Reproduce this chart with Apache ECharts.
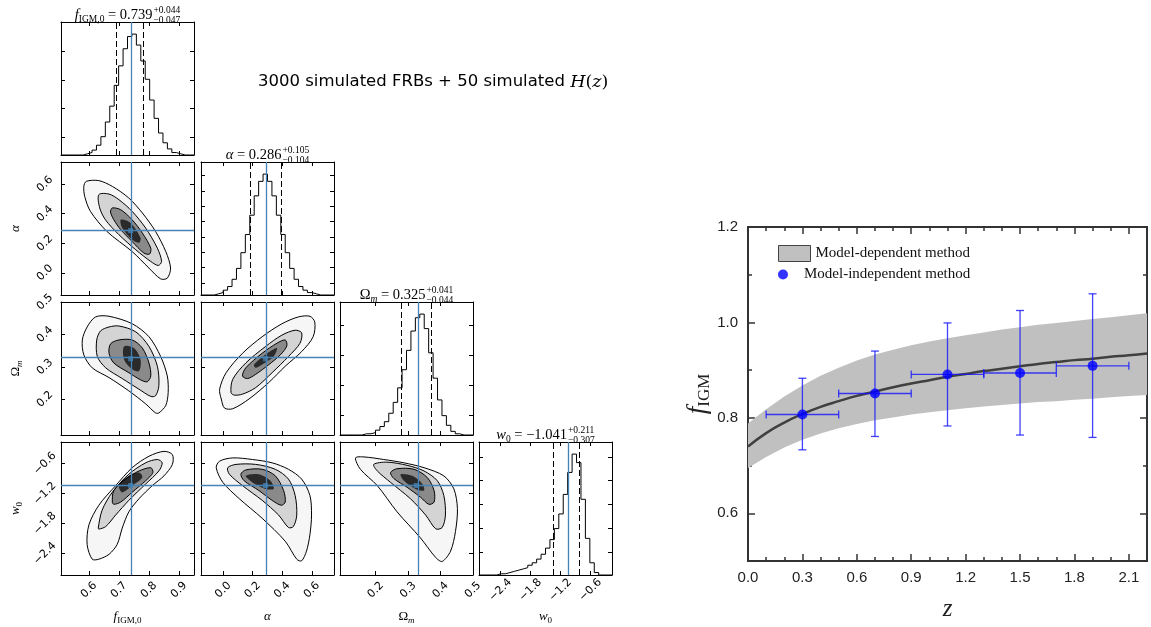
<!DOCTYPE html>
<html>
<head>
<meta charset="utf-8">
<script src="https://cdn.jsdelivr.net/npm/echarts@6/dist/echarts.min.js"></script>
<style>
html,body{margin:0;padding:0;background:#fff}
#c{width:1151px;height:627px}
</style>
</head>
<body>
<div id="c"></div>
<script>
// ---------- posterior summary: f_IGM,0, alpha, Omega_m, w0 ----------
const paramRanges = [[0.507, 0.95], [-0.15, 0.75], [0.09, 0.50], [-2.83, -0.17]];
const paramTicks = [[0.6, 0.7, 0.8, 0.9], [0.0, 0.2, 0.4, 0.6], [0.2, 0.3, 0.4, 0.5], [-2.4, -1.8, -1.2, -0.6]];
const paramMedian = [0.739, 0.286, 0.325, -1.041];
const paramErrUp = [0.044, 0.105, 0.041, 0.211];
const paramErrDown = [0.047, 0.104, 0.044, 0.307];

// 1D marginal histograms (30 bins across each range, peak-normalised counts)
const histF = [0,0,0,0,0,1,2,4,8,15,27,40,57,73,87,97,99,90,77,62,45,30,18,10,5,2,1,0,0,0];
const histA = [0,0,0,1,2,4,7,13,22,35,50,66,82,94,100,94,82,66,50,35,22,13,7,4,2,1,0,0,0,0];
const histO = [0,0,0,0,0,1,1,2,4,7,11,18,27,39,54,70,86,97,100,88,68,47,29,16,8,3,1,0,0,0];
const histW = [0,0,0,0,1,1,2,3,4,5,6,8,10,13,17,22,29,38,50,66,84,99,92,62,30,10,2,0,0,0];
// count-axis tick positions of each histogram (same units as above)
const histTicksF = [14.5, 38, 61.5, 85];
const histTicksA = [10, 22.7, 35.4, 48.1, 60.8, 73.5, 86.2, 98.9];
const histTicksO = [16.5, 41.2, 65.9, 90.6];
const histTicksW = [18.7, 38.2, 57.7, 77.2, 96.7];

// 2D contour levels (outer, middle, inner) and densest core, per parameter pair
const faOuter = [[0.591,0.619],[0.633,0.624],[0.678,0.585],[0.733,0.506],[0.778,0.405],[0.822,0.280],[0.856,0.144],[0.872,0.032],[0.861,-0.036],[0.839,-0.041],[0.800,0.032],[0.744,0.144],[0.660,0.280],[0.605,0.416],[0.586,0.517],[0.583,0.585]];
const faMid = [[0.633,0.529],[0.667,0.533],[0.700,0.495],[0.744,0.416],[0.789,0.303],[0.828,0.167],[0.842,0.077],[0.831,0.050],[0.806,0.077],[0.756,0.156],[0.700,0.258],[0.655,0.359],[0.636,0.439]];
const faInner = [[0.678,0.439],[0.706,0.427],[0.744,0.359],[0.778,0.269],[0.806,0.167],[0.802,0.127],[0.783,0.134],[0.744,0.212],[0.706,0.292],[0.683,0.359],[0.672,0.412]];
const faCore = [[0.706,0.359],[0.739,0.337],[0.772,0.236],[0.767,0.203],[0.744,0.224],[0.711,0.303]];

const foOuter = [[0.594,0.423],[0.622,0.454],[0.667,0.456],[0.744,0.433],[0.800,0.393],[0.839,0.332],[0.861,0.272],[0.864,0.221],[0.856,0.181],[0.833,0.158],[0.822,0.158],[0.789,0.186],[0.733,0.226],[0.667,0.267],[0.611,0.297],[0.583,0.337],[0.578,0.383]];
const foMid = [[0.639,0.411],[0.667,0.423],[0.700,0.426],[0.756,0.408],[0.800,0.363],[0.828,0.302],[0.833,0.242],[0.822,0.211],[0.806,0.209],[0.767,0.231],[0.711,0.264],[0.656,0.297],[0.628,0.332],[0.626,0.383]];
const foInner = [[0.672,0.371],[0.700,0.383],[0.744,0.383],[0.778,0.358],[0.800,0.312],[0.806,0.272],[0.794,0.254],[0.772,0.260],[0.733,0.282],[0.683,0.312],[0.667,0.342]];
const foCore = [[0.717,0.363],[0.750,0.358],[0.772,0.323],[0.767,0.287],[0.744,0.293],[0.717,0.323]];

const aoOuter = [[-0.013,0.201],[-0.024,0.231],[0.020,0.282],[0.131,0.342],[0.264,0.393],[0.398,0.433],[0.509,0.454],[0.587,0.456],[0.620,0.438],[0.609,0.393],[0.531,0.347],[0.420,0.302],[0.309,0.252],[0.175,0.201],[0.065,0.171],[0.009,0.173]];
const aoMid = [[0.053,0.221],[0.065,0.262],[0.153,0.312],[0.287,0.363],[0.398,0.398],[0.487,0.413],[0.531,0.405],[0.520,0.373],[0.442,0.332],[0.331,0.282],[0.220,0.236],[0.131,0.216],[0.075,0.213]];
const aoInner = [[0.131,0.272],[0.153,0.297],[0.264,0.342],[0.364,0.373],[0.420,0.383],[0.431,0.365],[0.387,0.337],[0.309,0.307],[0.220,0.277],[0.165,0.264]];
const aoCore = [[0.209,0.307],[0.298,0.342],[0.364,0.358],[0.342,0.332],[0.264,0.307],[0.220,0.297]];

const fwOuter = [[0.611,-2.514],[0.594,-2.220],[0.600,-1.827],[0.633,-1.435],[0.689,-1.043],[0.744,-0.684],[0.800,-0.455],[0.850,-0.357],[0.878,-0.422],[0.878,-0.618],[0.850,-0.847],[0.811,-1.043],[0.767,-1.304],[0.733,-1.567],[0.711,-1.892],[0.694,-2.220],[0.667,-2.416],[0.633,-2.514]];
const fwMid = [[0.631,-1.892],[0.644,-1.533],[0.678,-1.175],[0.733,-0.814],[0.789,-0.586],[0.828,-0.520],[0.844,-0.586],[0.833,-0.749],[0.789,-1.010],[0.733,-1.337],[0.689,-1.631],[0.656,-1.861],[0.633,-1.912]];
const fwInner = [[0.678,-1.371],[0.683,-1.141],[0.722,-0.912],[0.767,-0.749],[0.806,-0.684],[0.813,-0.782],[0.789,-0.945],[0.744,-1.175],[0.706,-1.371],[0.683,-1.416]];
const fwCore = [[0.700,-1.043],[0.733,-0.847],[0.767,-0.782],[0.778,-0.880],[0.744,-1.043],[0.711,-1.175]];

const awOuter = [[-0.047,-0.684],[-0.024,-0.553],[0.065,-0.488],[0.198,-0.520],[0.331,-0.586],[0.442,-0.716],[0.531,-0.912],[0.587,-1.239],[0.598,-1.631],[0.587,-2.024],[0.564,-2.351],[0.531,-2.547],[0.498,-2.514],[0.420,-2.155],[0.264,-1.696],[0.109,-1.304],[-0.002,-0.978]];
const awMid = [[0.031,-0.684],[0.087,-0.618],[0.220,-0.618],[0.353,-0.716],[0.442,-0.912],[0.487,-1.239],[0.498,-1.631],[0.475,-1.861],[0.442,-1.880],[0.375,-1.631],[0.264,-1.337],[0.131,-1.043],[0.042,-0.814]];
const awInner = [[0.120,-0.814],[0.153,-0.729],[0.264,-0.716],[0.353,-0.847],[0.409,-1.141],[0.420,-1.371],[0.393,-1.435],[0.331,-1.337],[0.242,-1.141],[0.142,-0.945]];
const awCore = [[0.153,-0.847],[0.242,-0.814],[0.320,-0.945],[0.342,-1.108],[0.287,-1.108],[0.198,-0.978]];

const owOuter = [[0.138,-0.488],[0.164,-0.469],[0.225,-0.520],[0.287,-0.586],[0.349,-0.684],[0.410,-0.847],[0.441,-1.108],[0.452,-1.500],[0.446,-1.959],[0.431,-2.351],[0.405,-2.559],[0.385,-2.480],[0.338,-2.088],[0.266,-1.567],[0.205,-1.043],[0.153,-0.716]];
const owMid = [[0.194,-0.618],[0.235,-0.573],[0.297,-0.637],[0.349,-0.749],[0.390,-0.945],[0.410,-1.239],[0.415,-1.631],[0.405,-1.880],[0.385,-1.906],[0.354,-1.631],[0.307,-1.304],[0.246,-0.978],[0.205,-0.749]];
const owInner = [[0.246,-0.782],[0.266,-0.704],[0.318,-0.716],[0.359,-0.880],[0.380,-1.141],[0.380,-1.371],[0.364,-1.416],[0.338,-1.273],[0.297,-1.076],[0.256,-0.900]];
const owCore = [[0.277,-0.814],[0.313,-0.847],[0.344,-1.010],[0.349,-1.141],[0.323,-1.108],[0.287,-0.945]];

// ---------- f_IGM(z): model-dependent band and binned model-independent points ----------
const zGrid     = [0.0, 0.1, 0.2, 0.3, 0.4, 0.5, 0.6, 0.7, 0.8, 0.9, 1.0, 1.1, 1.2, 1.3, 1.4, 1.5, 1.6, 1.7, 1.8, 1.9, 2.0, 2.1, 2.2];
const bandMid   = [0.740, 0.768, 0.790, 0.808, 0.823, 0.835, 0.846, 0.855, 0.864, 0.872, 0.879, 0.886, 0.892, 0.898, 0.903, 0.908, 0.913, 0.917, 0.921, 0.924, 0.928, 0.931, 0.935];
const bandUpper = [0.788, 0.818, 0.845, 0.868, 0.888, 0.905, 0.920, 0.933, 0.943, 0.952, 0.960, 0.967, 0.973, 0.979, 0.985, 0.990, 0.995, 0.999, 1.003, 1.007, 1.011, 1.015, 1.019];
const bandLower = [0.695, 0.718, 0.738, 0.754, 0.767, 0.778, 0.787, 0.795, 0.801, 0.807, 0.812, 0.816, 0.820, 0.824, 0.827, 0.830, 0.833, 0.835, 0.838, 0.840, 0.843, 0.846, 0.848];
const binZ      = [0.3, 0.7, 1.1, 1.5, 1.9];
const binZLow   = [0.1, 0.5, 0.9, 1.3, 1.7];
const binZHigh  = [0.5, 0.9, 1.3, 1.7, 2.1];
const binF      = [0.807, 0.851, 0.891, 0.894, 0.909];
const binFLow   = [0.733, 0.761, 0.783, 0.764, 0.759];
const binFHigh  = [0.883, 0.940, 0.999, 1.025, 1.060];
const zTicks = [0.0, 0.3, 0.6, 0.9, 1.2, 1.5, 1.8, 2.1];
const zMinorTicks = [0.1, 0.2, 0.4, 0.5, 0.7, 0.8, 1.0, 1.1, 1.3, 1.4, 1.6, 1.7, 1.9, 2.0, 2.2];
const fTicks = [0.6, 0.8, 1.0, 1.2];
const fMinorTicks = [0.5, 0.7, 0.9, 1.1];

// ---------- layout ----------
const colLeft = [61, 201, 340, 479];
const rowTop = [22, 162, 302, 442];
const panelW = 133, panelH = 133;
const steel = '#4682b4';
const tickFont = 'DejaVu Sans';
const mathFont = 'Liberation Serif';

const fmt1 = v => (Math.abs(v) < 1e-9 ? 0 : v).toFixed(1).replace('-', '\u2212');
const measureCtx = document.createElement('canvas').getContext('2d');
function textWidth(str, font) { measureCtx.font = font; return measureCtx.measureText(str).width; }

// axis-name rich pieces for each parameter
const nameRich = {
  n: {fontFamily: mathFont, fontSize: 13, lineHeight: 16, verticalAlign: 'middle', color: '#000'},
  i: {fontFamily: mathFont, fontStyle: 'italic', fontSize: 13, lineHeight: 16, verticalAlign: 'middle', color: '#000'},
  s: {fontFamily: mathFont, fontSize: 9, lineHeight: 16, verticalAlign: 'bottom', color: '#000'},
  si: {fontFamily: mathFont, fontStyle: 'italic', fontSize: 9, lineHeight: 16, verticalAlign: 'bottom', color: '#000'}
};
const paramLabel = ['{i|f}{s|IGM,0}', '{i|\u03b1}', '{n|\u03a9}{si|m}', '{i|w}{s|0}'];

const grids = [], xAxes = [], yAxes = [], series = [], graphics = [];

function cornerAxis(gi, pos, range, ticks, showLabels, name, isY) {
  const ax = {
    type: 'value', gridIndex: gi, position: pos, min: range[0], max: range[1],
    axisLine: {show: true, onZero: false, lineStyle: {color: '#000', width: 1}},
    axisTick: {show: true, inside: true, length: 4, customValues: ticks, lineStyle: {color: '#000', width: 1}},
    axisLabel: {show: showLabels, customValues: ticks, formatter: fmt1, rotate: 45, align: 'center',
      verticalAlign: 'middle', margin: isY ? 16 : 15, fontFamily: tickFont, fontSize: 11, color: '#000'},
    splitLine: {show: false}
  };
  if (name) {
    ax.name = name; ax.nameLocation = 'middle'; ax.nameGap = isY ? 37 : 34;
    ax.nameTextStyle = {rich: nameRich};
    if (isY) ax.nameRotate = 90;
  }
  return ax;
}

function histPoints(counts, range) {
  const w = (range[1] - range[0]) / counts.length;
  const pts = counts.map((c, i) => [range[0] + i * w, c]);
  pts.push([range[1], counts[counts.length - 1]]);
  return pts;
}

function polygonSeries(axisIdx, layers) {
  return {
    type: 'custom', xAxisIndex: axisIdx, yAxisIndex: axisIdx, silent: true, clip: true, z: 2,
    encode: {x: 0, y: 1},
    data: layers.map((l, i) => [l.pts[0][0], l.pts[0][1], i]),
    renderItem: (params, api) => {
      const L = layers[params.dataIndex];
      return {
        type: 'polygon',
        shape: {points: L.pts.map(p => api.coord(p)), smooth: 0.3},
        style: {fill: L.fill || 'none', stroke: L.stroke || 'none', lineWidth: 1}
      };
    }
  };
}

const hists = [histF, histA, histO, histW];
const histTicks = [histTicksF, histTicksA, histTicksO, histTicksW];
const pairs = {
  '1,0': [faOuter, faMid, faInner, faCore],
  '2,0': [foOuter, foMid, foInner, foCore],
  '2,1': [aoOuter, aoMid, aoInner, aoCore],
  '3,0': [fwOuter, fwMid, fwInner, fwCore],
  '3,1': [awOuter, awMid, awInner, awCore],
  '3,2': [owOuter, owMid, owInner, owCore]
};

const titleRich = {
  n: {fontFamily: mathFont, fontSize: 14.5, lineHeight: 18, verticalAlign: 'middle', fill: '#000'},
  i: {fontFamily: mathFont, fontStyle: 'italic', fontSize: 14.5, lineHeight: 18, verticalAlign: 'middle', fill: '#000'},
  s: {fontFamily: mathFont, fontSize: 9.5, lineHeight: 18, verticalAlign: 'bottom', fill: '#000'},
  si: {fontFamily: mathFont, fontStyle: 'italic', fontSize: 9.5, lineHeight: 18, verticalAlign: 'bottom', fill: '#000'}
};
const F_MAIN = '14.5px "Liberation Serif"', F_MAIN_I = 'italic 14.5px "Liberation Serif"';
const F_SCR = '9.5px "Liberation Serif"', F_SCR_I = 'italic 9.5px "Liberation Serif"';

for (let r = 0; r < 4; r++) {
  for (let c = 0; c <= r; c++) {
    const gi = grids.length;
    grids.push({left: colLeft[c], top: rowTop[r], width: panelW, height: panelH});
    const xr = paramRanges[c];
    xAxes.push(cornerAxis(gi, 'bottom', xr, paramTicks[c], r === 3, r === 3 ? paramLabel[c] : null, false));
    xAxes.push(cornerAxis(gi, 'top', xr, paramTicks[c], false, null, false));
    const axisIdx = xAxes.length - 2;
    if (r === c) {
      const peak = Math.max(...hists[c]);
      const yr = [0, peak * 1.1];
      yAxes.push(cornerAxis(gi, 'left', yr, histTicks[c], false, null, true));
      yAxes.push(cornerAxis(gi, 'right', yr, histTicks[c], false, null, true));
      const med = paramMedian[c];
      series.push({
        type: 'line', step: 'end', xAxisIndex: axisIdx, yAxisIndex: axisIdx, silent: true,
        data: histPoints(hists[c], xr), symbol: 'none', lineStyle: {color: '#000', width: 1},
        markLine: {
          silent: true, symbol: ['none', 'none'], label: {show: false},
          data: [
            {xAxis: med, lineStyle: {color: steel, width: 1.3, type: 'solid'}},
            {xAxis: med - paramErrDown[c], lineStyle: {color: '#000', width: 1, type: [6, 3]}},
            {xAxis: med + paramErrUp[c], lineStyle: {color: '#000', width: 1, type: [6, 3]}}
          ]
        }
      });
      // title with median and asymmetric errors
      const cx = colLeft[c] + panelW / 2;
      const ty = rowTop[r] - 7;
      const heads = [
        {rich: '{i|f}{s|IGM,0}', w: textWidth('f', F_MAIN_I) + textWidth('IGM,0', F_SCR)},
        {rich: '{i|\u03b1}', w: textWidth('\u03b1', F_MAIN_I)},
        {rich: '{n|\u03a9}{si|m}', w: textWidth('\u03a9', F_MAIN) + textWidth('m', F_SCR_I)},
        {rich: '{i|w}{s|0}', w: textWidth('w', F_MAIN_I) + textWidth('0', F_SCR)}
      ][c];
      const valStr = ' = ' + paramMedian[c].toFixed(3).replace('-', '\u2212');
      const mainW = heads.w + textWidth(valStr, F_MAIN);
      const upStr = '+' + paramErrUp[c].toFixed(3);
      const dnStr = '\u2212' + paramErrDown[c].toFixed(3);
      const scrW = Math.max(textWidth(upStr, F_SCR), textWidth(dnStr, F_SCR));
      const x0 = cx - (mainW + 1 + scrW) / 2;
      graphics.push({type: 'text', x: x0, y: ty, silent: true,
        style: {text: heads.rich + '{n|' + valStr + '}', rich: titleRich, align: 'left', verticalAlign: 'middle'}});
      graphics.push({type: 'text', x: x0 + mainW + 1, y: ty - 5, silent: true,
        style: {text: upStr, font: F_SCR, fill: '#000', align: 'left', verticalAlign: 'middle'}});
      graphics.push({type: 'text', x: x0 + mainW + 1, y: ty + 5, silent: true,
        style: {text: dnStr, font: F_SCR, fill: '#000', align: 'left', verticalAlign: 'middle'}});
    } else {
      const yr = paramRanges[r];
      yAxes.push(cornerAxis(gi, 'left', yr, paramTicks[r], c === 0, c === 0 ? paramLabel[r] : null, true));
      yAxes.push(cornerAxis(gi, 'right', yr, paramTicks[r], false, null, true));
      const [outer, mid, inner, core] = pairs[r + ',' + c];
      series.push(polygonSeries(axisIdx, [
        {pts: outer, fill: '#f6f6f6'},
        {pts: mid, fill: '#d4d4d4'},
        {pts: inner, fill: '#8a8a8a'},
        {pts: core, fill: '#2a2a2a'},
        {pts: outer, stroke: '#000'},
        {pts: mid, stroke: '#000'},
        {pts: inner, stroke: '#000'}
      ]));
      series.push({
        type: 'scatter', xAxisIndex: axisIdx, yAxisIndex: axisIdx, silent: true, z: 5,
        data: [[paramMedian[c], paramMedian[r]]], symbol: 'rect', symbolSize: 5,
        itemStyle: {color: steel},
        markLine: {
          silent: true, symbol: ['none', 'none'], label: {show: false},
          lineStyle: {color: steel, width: 1.3, type: 'solid'},
          data: [{xAxis: paramMedian[c]}, {yAxis: paramMedian[r]}]
        }
      });
    }
  }
}

// ---------- right panel: f_IGM versus z ----------
const rg = grids.length;
grids.push({left: 748, top: 227, width: 399, height: 337});
const frameLine = {show: true, onZero: false, lineStyle: {color: '#333', width: 2}};
function zAxis(pos, ticks, len, labels, withName) {
  const ax = {
    type: 'value', gridIndex: rg, position: pos, min: 0, max: 2.2,
    axisLine: frameLine,
    axisTick: {show: true, inside: true, length: len, customValues: ticks, lineStyle: {color: '#333', width: 1.5}},
    axisLabel: {show: labels, customValues: ticks, formatter: v => v.toFixed(1), margin: 9,
      fontFamily: 'Liberation Sans', fontSize: 15, color: '#222'},
    splitLine: {show: false}
  };
  if (withName) {
    ax.name = 'z'; ax.nameLocation = 'middle'; ax.nameGap = 36;
    ax.nameTextStyle = {fontFamily: 'Liberation Serif', fontStyle: 'italic', fontSize: 25, color: '#222'};
  }
  return ax;
}
function fAxis(pos, ticks, len, labels, withName) {
  const ax = {
    type: 'value', gridIndex: rg, position: pos, min: 0.5, max: 1.2,
    axisLine: frameLine,
    axisTick: {show: true, inside: true, length: len, customValues: ticks, lineStyle: {color: '#333', width: 1.5}},
    axisLabel: {show: labels, customValues: ticks, formatter: v => v.toFixed(1), margin: 10,
      fontFamily: 'Liberation Sans', fontSize: 15, color: '#222'},
    splitLine: {show: false}
  };
  if (withName) {
    ax.name = '{i|f}{s|IGM}'; ax.nameLocation = 'middle'; ax.nameGap = 28; ax.nameRotate = 90;
    ax.nameTextStyle = {rich: {
      i: {fontFamily: 'Liberation Serif', fontStyle: 'italic', fontSize: 27, lineHeight: 30, verticalAlign: 'middle', color: '#222'},
      s: {fontFamily: 'Liberation Serif', fontSize: 17, lineHeight: 30, verticalAlign: 'bottom', color: '#222'}
    }};
  }
  return ax;
}
const rx = xAxes.length;
xAxes.push(zAxis('bottom', zTicks, 7, true, true));
xAxes.push(zAxis('bottom', zMinorTicks, 4, false, false));
xAxes.push(zAxis('top', zTicks, 7, false, false));
xAxes.push(zAxis('top', zMinorTicks, 4, false, false));
yAxes.push(fAxis('left', fTicks, 7, true, true));
yAxes.push(fAxis('left', fMinorTicks, 4, false, false));
yAxes.push(fAxis('right', fTicks, 7, false, false));
yAxes.push(fAxis('right', fMinorTicks, 4, false, false));

// 1-sigma band drawn as a single closed polygon: upper edge forward, lower edge back
series.push({
  name: 'Model-dependent method',
  type: 'custom', xAxisIndex: rx, yAxisIndex: rx, silent: true, clip: true, z: 1,
  encode: {x: 0, y: 1},
  itemStyle: {color: '#c0c0c0'},
  data: [[zGrid[0], bandUpper[0]]],
  renderItem: (params, api) => {
    const pts = zGrid.map((z, i) => api.coord([z, bandUpper[i]]))
      .concat(zGrid.map((z, i) => api.coord([z, bandLower[i]])).reverse());
    return {type: 'polygon', shape: {points: pts}, style: {fill: '#c0c0c0', stroke: 'none'}};
  }
});
series.push({
  type: 'line', xAxisIndex: rx, yAxisIndex: rx, smooth: true, symbol: 'none', silent: true,
  data: zGrid.map((z, i) => [z, bandMid[i]]), lineStyle: {color: '#404040', width: 2.5}, z: 3
});
series.push({
  type: 'custom', xAxisIndex: rx, yAxisIndex: rx, silent: true, z: 4,
  encode: {x: 0, y: 1},
  data: binZ.map((z, i) => [z, binF[i], binZLow[i], binZHigh[i], binFLow[i], binFHigh[i]]),
  renderItem: (params, api) => {
    const c = api.coord([api.value(0), api.value(1)]);
    const lo = api.coord([api.value(0), api.value(4)]);
    const hi = api.coord([api.value(0), api.value(5)]);
    const l = api.coord([api.value(2), api.value(1)]);
    const rr = api.coord([api.value(3), api.value(1)]);
    const st = {stroke: 'rgba(20,20,255,0.8)', lineWidth: 1.3};
    const cap = 4;
    return {type: 'group', children: [
      {type: 'line', shape: {x1: c[0], y1: lo[1], x2: c[0], y2: hi[1]}, style: st},
      {type: 'line', shape: {x1: c[0] - cap, y1: lo[1], x2: c[0] + cap, y2: lo[1]}, style: st},
      {type: 'line', shape: {x1: c[0] - cap, y1: hi[1], x2: c[0] + cap, y2: hi[1]}, style: st},
      {type: 'line', shape: {x1: l[0], y1: c[1], x2: rr[0], y2: c[1]}, style: st},
      {type: 'line', shape: {x1: l[0], y1: c[1] - cap, x2: l[0], y2: c[1] + cap}, style: st},
      {type: 'line', shape: {x1: rr[0], y1: c[1] - cap, x2: rr[0], y2: c[1] + cap}, style: st}
    ]};
  }
});
series.push({
  name: 'Model-independent method',
  type: 'scatter', xAxisIndex: rx, yAxisIndex: rx, silent: true, z: 5,
  data: binZ.map((z, i) => [z, binF[i]]), symbol: 'circle', symbolSize: 10,
  itemStyle: {color: '#0000ff'}
});

// heading
graphics.push({type: 'text', x: 258, y: 82, silent: true, style: {
  text: '{a|3000 simulated FRBs + 50 simulated }{b|H}{c|(}{b|z}{c|)}',
  verticalAlign: 'middle', align: 'left',
  rich: {
    a: {fontFamily: 'DejaVu Sans', fontSize: 16.5, fill: '#000', lineHeight: 20, verticalAlign: 'middle'},
    b: {fontFamily: 'DejaVu Serif', fontStyle: 'italic', fontSize: 17.5, fill: '#000', lineHeight: 20, verticalAlign: 'middle'},
    c: {fontFamily: 'DejaVu Serif', fontSize: 17.5, fill: '#000', lineHeight: 20, verticalAlign: 'middle'}
  }
}});

const legendText = {fontFamily: 'Liberation Serif', fontSize: 15, color: '#111'};
const chart = echarts.init(document.getElementById('c'), null, {renderer: 'canvas', width: 1151, height: 627});
chart.setOption({
  animation: false,
  backgroundColor: '#fff',
  grid: grids,
  xAxis: xAxes,
  yAxis: yAxes,
  legend: [
    {left: 778, top: 245, padding: 0, selectedMode: false, itemWidth: 32, itemHeight: 16,
      data: [{name: 'Model-dependent method', icon: 'rect', itemStyle: {color: '#c0c0c0', borderColor: '#444', borderWidth: 1}}],
      textStyle: legendText},
    {left: 778, top: 267, padding: 0, selectedMode: false, itemWidth: 32, itemHeight: 10,
      data: [{name: 'Model-independent method', icon: 'circle', itemStyle: {color: '#0000ff'}}],
      textStyle: legendText}
  ],
  series: series,
  graphic: graphics
});
</script>
</body>
</html>
